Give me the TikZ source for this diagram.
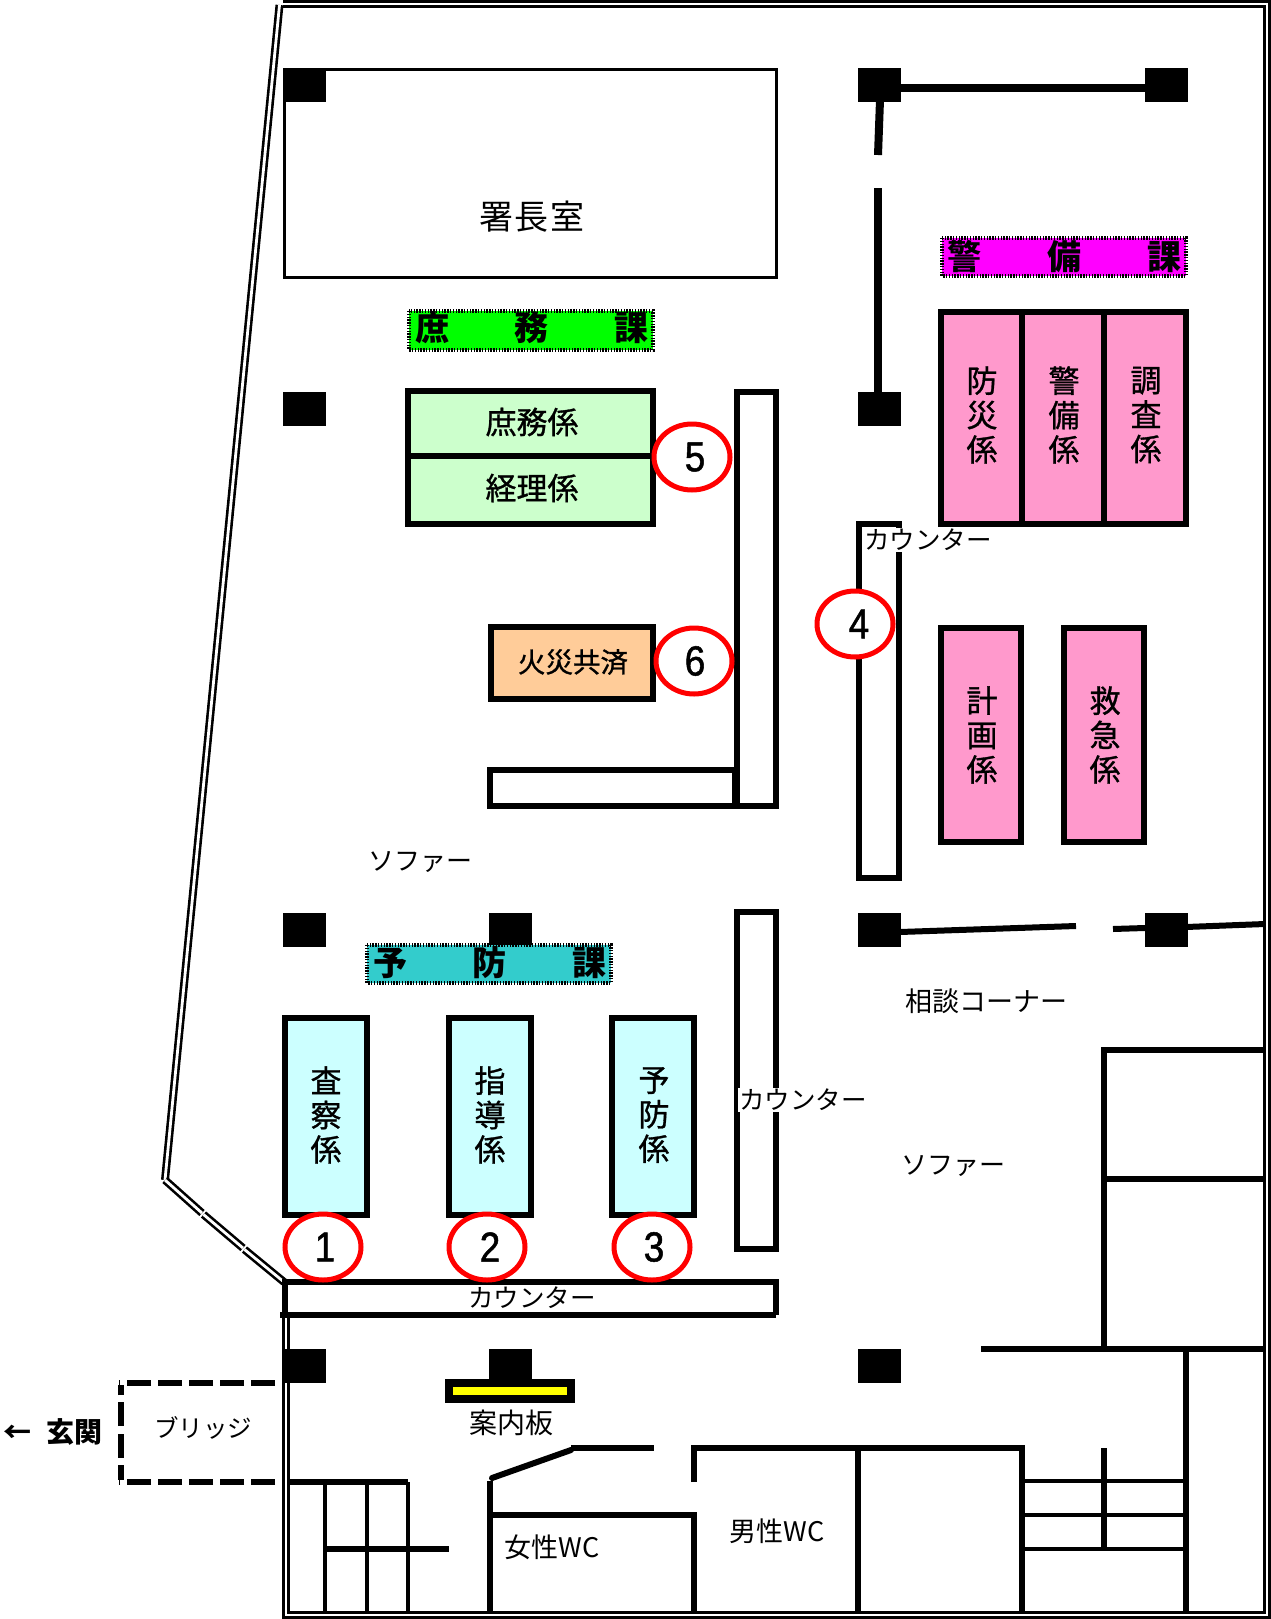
\documentclass[tikz,border=0pt]{standalone}
\usepackage{fontspec}
\usetikzlibrary{calc}
\setmainfont{Noto Sans CJK JP}
\newfontfamily\digitfont[FakeStretch=0.88,FakeBold=1.2]{Liberation Sans}
\newfontfamily\staffont[FakeBold=1]{Noto Sans CJK JP}
\definecolor{greenbox}{HTML}{CCFFCC}
\definecolor{pinkbox}{HTML}{FF99CC}
\definecolor{bluebox}{HTML}{CCFFFF}
\definecolor{orangebox}{HTML}{FFCC99}
\definecolor{tealband}{HTML}{33CCCC}
\definecolor{pureG}{HTML}{00FF00}
\definecolor{pureM}{HTML}{FF00FF}
\definecolor{pureY}{HTML}{FFFF00}
\definecolor{pureR}{HTML}{FF0000}
\tikzset{
  wall/.style={line width=6pt,line cap=butt,miter limit=10},
  thickwall/.style={line width=8pt},
  thinwall/.style={line width=4pt},
  frameline/.style={line width=3pt},
  room/.style={draw=black,line width=6pt},
  pillar/.style={fill=black,draw=none},
  label/.style={font=\fontsize{27}{30}\selectfont,inner sep=0pt,align=center},
  counterlabel/.style={font=\fontsize{25.5}{30}\selectfont,inner sep=0pt,align=center},
  maskedlabel/.style={counterlabel,fill=white,inner ysep=1pt,inner xsep=1pt},
  staff/.style={font=\staffont\fontsize{31}{34.4}\selectfont,inner sep=0pt,align=center},
  bandtext/.style={font=\bfseries\fontsize{34}{34}\selectfont,inner sep=0pt},
  bandedge/.style={draw=black,line width=4pt,dash pattern=on 1.4pt off 1.4pt},
  mark circle/.style={draw=pureR,fill=white,line width=5pt},
  marknum/.style={font=\digitfont\fontsize{42}{42}\selectfont,inner sep=0pt},
  dbl/.style={draw=black,double=white,line width=2.6pt,double distance=2.8pt},
  bridgeline/.style={line width=6pt,dash pattern=on 24pt off 7pt}
}
\begin{document}
\begin{tikzpicture}[x=1pt,y=-1pt]
\useasboundingbox[fill=white] (0,0) rectangle (1271,1619);

% building frame (double line)
\draw[frameline] (283,1.5) -- (1269.5,1.5) -- (1269.5,1617.3) -- (283,1617.3) -- (283,1315);
\draw[frameline] (283,6.5) -- (1264.5,6.5) -- (1264.5,1612) -- (288,1612) -- (288,1315);

% slanted glass wall
\coordinate (g0) at (279.5,5);
\coordinate (g1) at (165,1180);
\coordinate (g2) at (202,1213);
\coordinate (g3) at (243,1248);
\coordinate (g4) at (284,1282);
\draw[dbl] (g0) -- (g1);
\draw[dbl] (g1) -- (g2);
\draw[dbl] ($(g2)+(1.5,1.5)$) -- (g3);
\draw[dbl] ($(g3)+(1.5,1.5)$) -- (g4);

% chief's room
\draw[draw=black,line width=3pt] (284.5,69.5) rectangle (776,277);
\node[font=\fontsize{34}{34}\selectfont,inner sep=0pt] (chief) at (532,217) {署\hspace{2pt}長\hspace{2pt}室};

% pillars
\foreach \px/\py in {283/68,858/68,1145/68,283/392,858/392,283/913,489/913,858/913,1145/913,283/1349,489/1349,858/1349}{
  \fill[pillar] (\px,\py) rectangle ++(42.5,33.5);
}

% upper right walls
\draw[thickwall] (900,88) -- (1145,88);
\draw[thickwall] (880,100) -- (878,155);
\draw[thickwall] (878,188) -- (878,392);
% partition right of consultation corner
\draw[wall] (900,932) -- (1076,926);
\draw[wall] (1113,929) -- (1145,928);
\draw[wall] (1186,927) -- (1265,924);

% right-hand rooms
\draw[wall] (1104,1349) -- (1104,1050) -- (1265,1050);
\draw[wall] (1104,1179) -- (1265,1179);
\draw[wall] (981,1349) -- (1265,1349);
\draw[wall] (1186,1349) -- (1186,1612);

% bottom WCs and stairs
\draw[wall] (694,1482) -- (694,1448) -- (1022,1448) -- (1022,1612);
\draw[wall] (858,1448) -- (858,1612);
\draw[wall] (490,1481) -- (490,1612);
\draw[wall] (490,1515) -- (694,1515) -- (694,1612);
\draw[wall,line cap=round] (492,1478) -- (571,1450);
\draw[wall] (571,1448) -- (654,1448);
\draw[thinwall] (1022,1481) -- (1186,1481);
\draw[thinwall] (1022,1515) -- (1186,1515);
\draw[thinwall] (1022,1549) -- (1186,1549);
\draw[wall] (1104,1448) -- (1104,1549);
\draw[wall] (289,1482) -- (408,1482);
\draw[thinwall] (325,1482) -- (325,1612);
\draw[thinwall] (366.5,1482) -- (366.5,1612);
\draw[thinwall] (407.5,1482) -- (407.5,1612);
\draw[wall] (325,1549) -- (449,1549);

% bridge
\draw[bridgeline] (275,1383) -- (119,1383);
\draw[bridgeline] (275,1482) -- (119,1482);
\draw[bridgeline] (121,1426) -- (121,1385);
\draw[bridgeline] (121,1434) -- (121,1480);
\node[font=\fontsize{24.5}{30}\selectfont,inner sep=0pt] (bridge) at (203,1428) {ブリッジ};
\node[font=\fontsize{28}{28}\selectfont\bfseries,inner sep=0pt] (entrance) at (53,1432) {←\hspace{16pt}玄関};

% information board
\draw[draw=black,fill=pureY,line width=8pt] (449,1383) rectangle (571,1399);
\node[font=\fontsize{28}{30}\selectfont,inner sep=0pt] (board) at (511,1423) {案内板};

% counters
\draw[wall,fill=white] (490,770) rectangle (735,806);
\draw[wall,fill=white] (737,392) rectangle (776,806);
\draw[wall,fill=white] (859,524) rectangle (899,878);
\draw[wall,fill=white] (737,912) rectangle (776,1249);
\draw[wall] (280,1315) -- (776,1315);
\draw[wall] (776,1315) -- (776,1282) -- (285,1282) -- (285,1315);

% section bands
\draw[bandedge,fill=pureG] (409,311) rectangle (653,350);
\node[bandtext] (b1) at (532,328) {庶\hspace{66pt}務\hspace{66pt}課};
\draw[bandedge,fill=pureM] (942,238) rectangle (1186,276);
\node[bandtext] (b2) at (1064,257) {警\hspace{66pt}備\hspace{66pt}課};
\draw[bandedge,fill=tealband] (367,945) rectangle (611,983);
\node[bandtext] (b3) at (490,963) {予\hspace{66pt}防\hspace{66pt}課};

% general affairs
\draw[room,fill=greenbox] (408,391) rectangle (653,524);
\draw[wall] (408,456) -- (653,456);
\node[staff] (s1) at (532,422) {庶務係};
\node[staff] (s2) at (532,488) {経理係};

% mutual aid
\draw[room,fill=orangebox] (491,627) rectangle (653,699);
\node[font=\staffont\fontsize{27.5}{30}\selectfont,inner sep=0pt] (s3) at (573,662) {火災共済};

% guard section
\draw[room,fill=pinkbox] (941,312) rectangle (1186,524);
\draw[wall] (1022,312) -- (1022,524);
\draw[wall] (1104,312) -- (1104,524);
\node[staff] (s4) at (982,415) {防\\災\\係};
\node[staff] (s5) at (1064,415) {警\\備\\係};
\node[staff] (s6) at (1146,415) {調\\査\\係};
\draw[room,fill=pinkbox] (941,628) rectangle (1021,842);
\draw[room,fill=pinkbox] (1064,628) rectangle (1144,842);
\node[staff] (s7) at (982,735) {計\\画\\係};
\node[staff] (s8) at (1105,735) {救\\急\\係};

% prevention section
\draw[room,fill=bluebox] (285,1018) rectangle (367,1215);
\draw[room,fill=bluebox] (449,1018) rectangle (531,1215);
\draw[room,fill=bluebox] (612,1018) rectangle (694,1215);
\node[staff] (s9) at (326,1115) {査\\察\\係};
\node[staff] (s10) at (490,1115) {指\\導\\係};
\node[staff] (s11) at (654,1115) {予\\防\\係};

% circled numbers
\foreach \nm/\cx/\cy/\dx in {1/323/1247/325,2/487/1247/490,3/652/1247/654,4/855/624/859,5/692/457/695,6/694/661/695}{
  \draw[mark circle] (\cx,\cy) ellipse [x radius=38,y radius=33];
  \node[marknum] (n\nm) at (\dx,\cy) {\nm};
}

% other labels
\node[maskedlabel,anchor=west] (c1) at (863,540) {カウンター};
\node[maskedlabel] (c2) at (803,1100) {カウンター};
\node[counterlabel] (c3) at (532,1298) {カウンター};
\node[font=\fontsize{26}{30}\selectfont,inner sep=0pt] (sofa1) at (420,862) {ソファー};
\node[font=\fontsize{26}{30}\selectfont,inner sep=0pt] (sofa2) at (953,1166) {ソファー};
\node[label] (soudan) at (986,1001) {相談コーナー};
\node[label] (wc1) at (552,1547) {女性WC};
\node[label] (wc2) at (777,1531) {男性WC};
\end{tikzpicture}
\end{document}
